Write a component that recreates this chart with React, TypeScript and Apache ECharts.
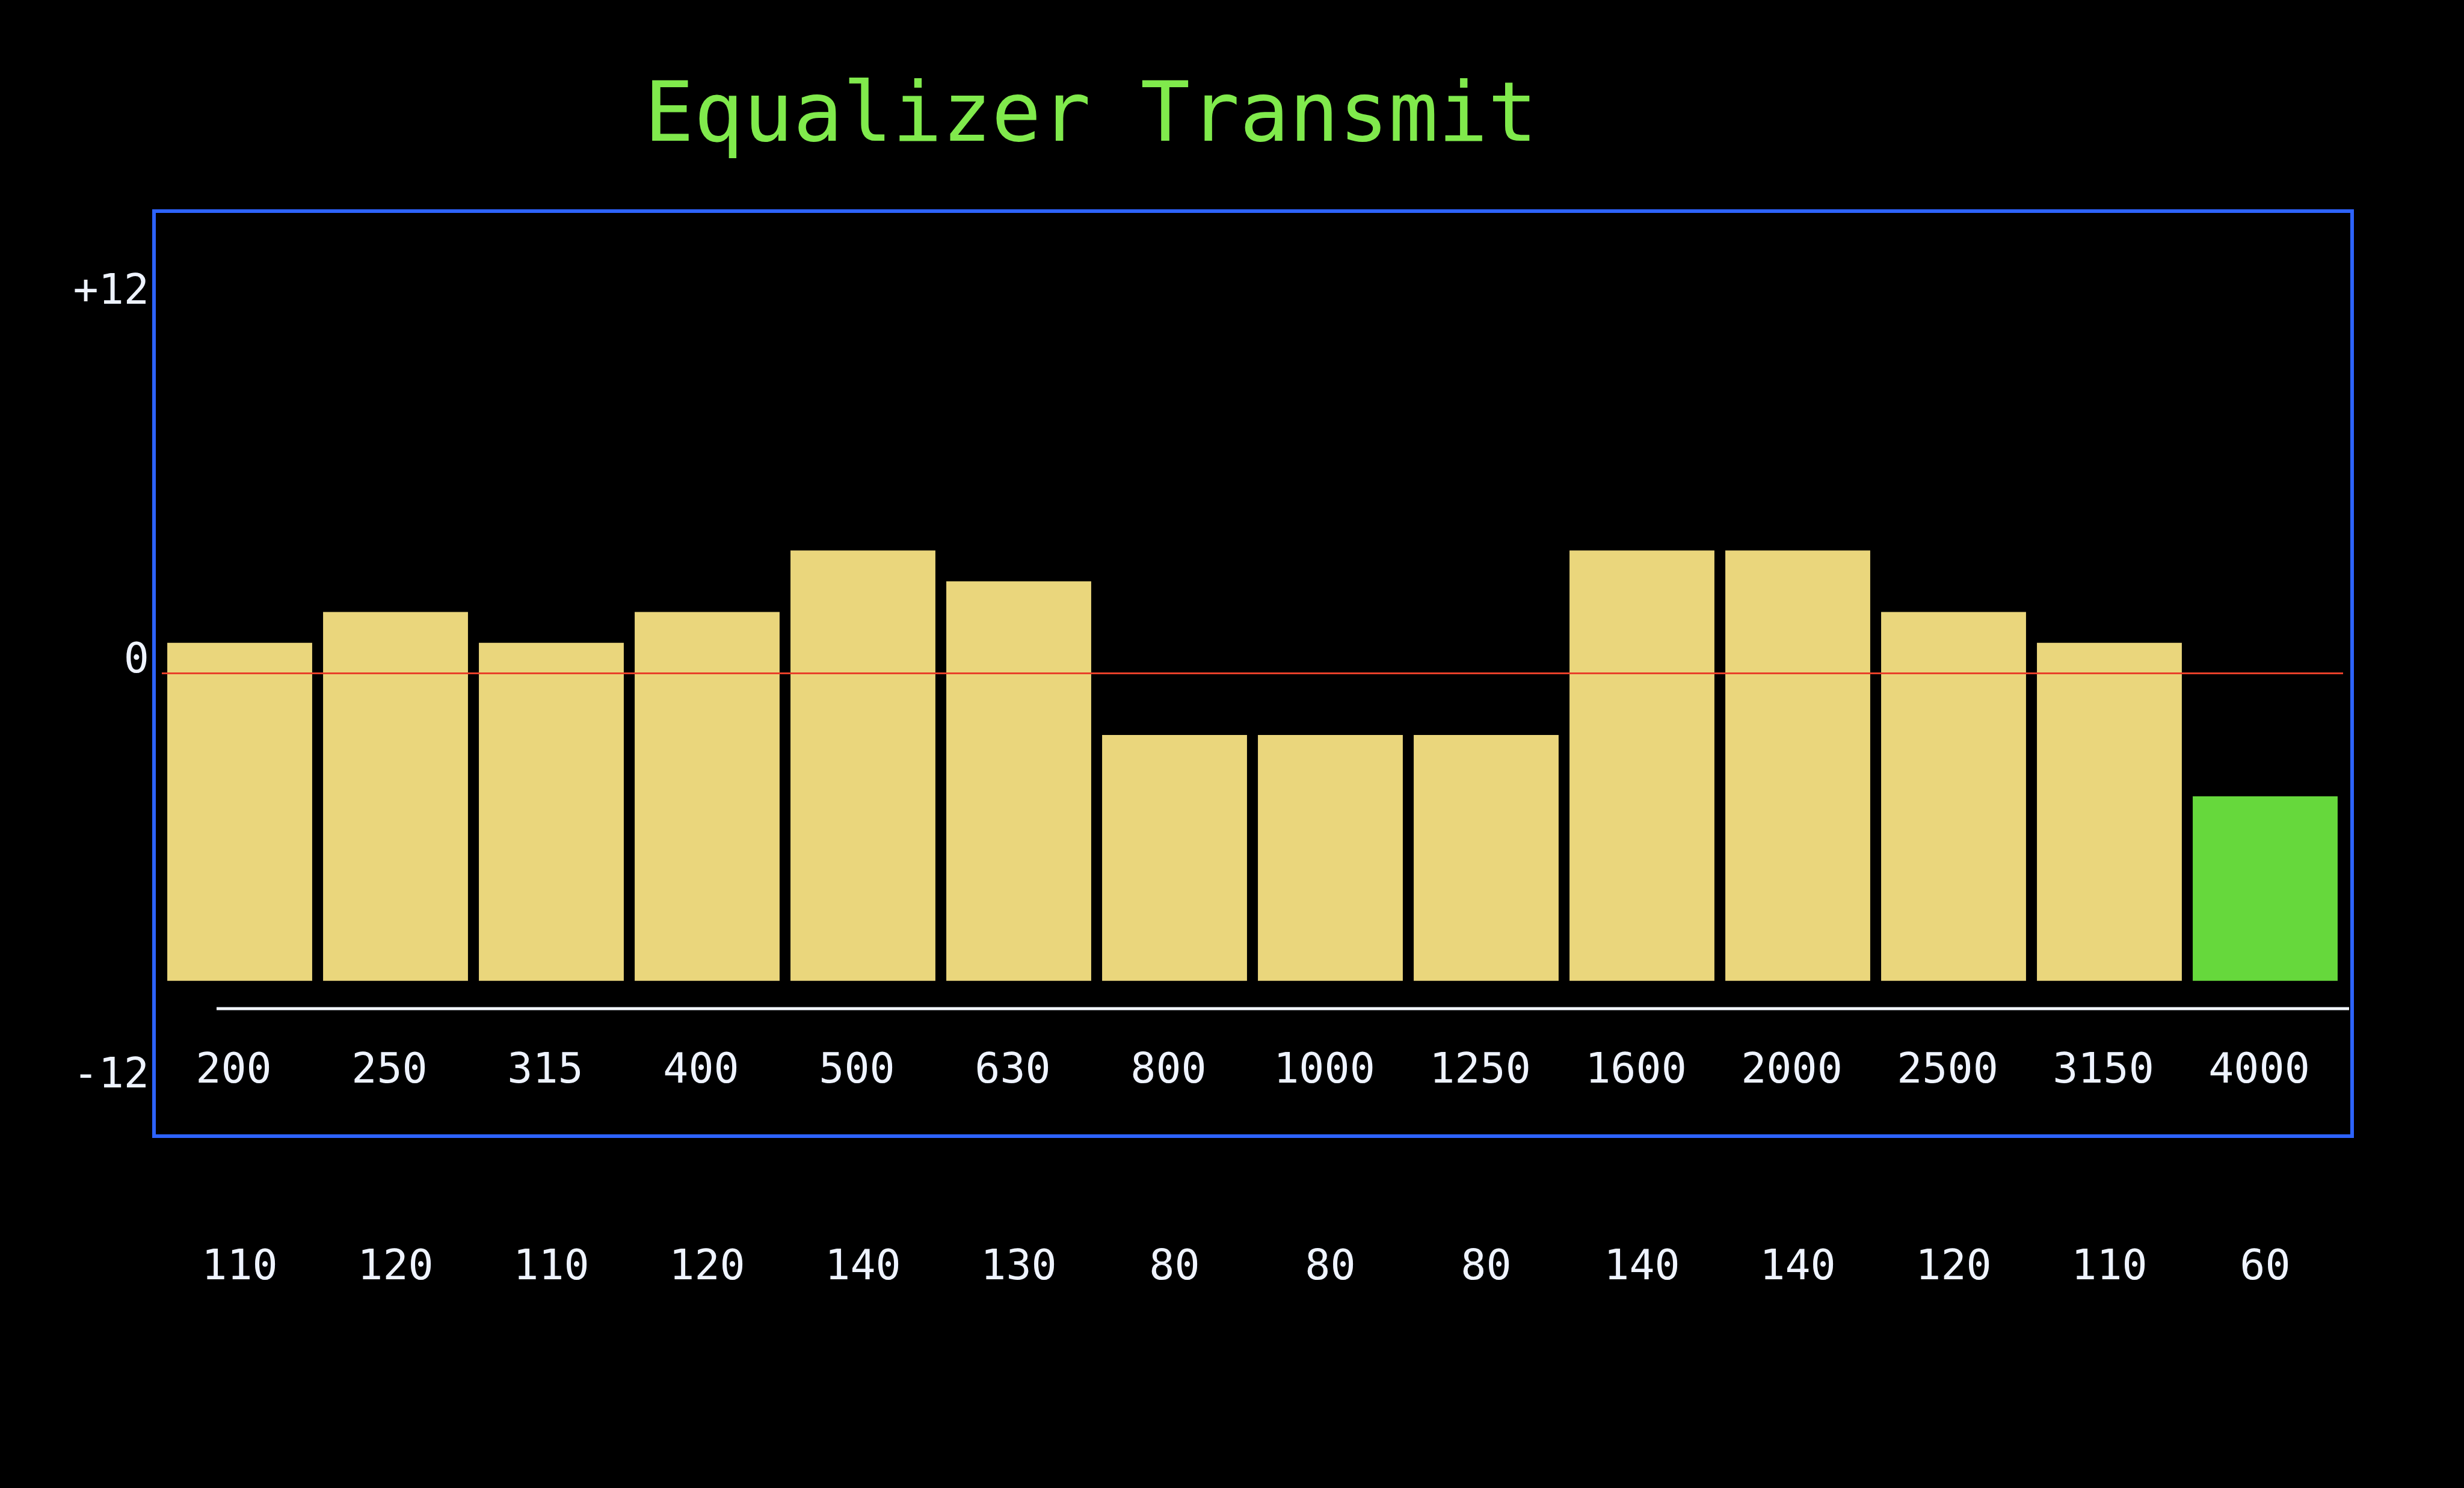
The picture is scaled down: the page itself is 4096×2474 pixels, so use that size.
import React, { useEffect, useRef } from "react";
import * as echarts from "echarts";

const titleText = "Equalizer Transmit";
const frequencies = ["200", "250", "315", "400", "500", "630", "800", "1000", "1250", "1600", "2000", "2500", "3150", "4000"];
const levels = [110, 120, 110, 120, 140, 130, 80, 80, 80, 140, 140, 120, 110, 60];
const dbTickValues = [-12, 0, 12];
const dbTickLabels = ["-12", "0", "+12"];
const referenceLevel = 100;
const selectedBand = "4000";

const FONT = "DejaVu Sans Mono";
const LABEL_COLOR = "#eef3ff";
const YELLOW = "#ead67c";
const GREEN = "#66d83c";

export default function App() {
  const ref = useRef<HTMLDivElement>(null);
  useEffect(() => {
    if (!ref.current) return;
    const chart = echarts.init(ref.current, null, { renderer: "svg" });
    const option = {
      animation: false,
      backgroundColor: "#000000",
      title: {
        text: titleText,
        left: 1071,
        top: 118,
        padding: 0,
        textStyle: { fontFamily: FONT, fontSize: 137, fontWeight: "normal", color: "#80ea4c" },
      },
      grid: { left: 269, right: 201, top: 481, bottom: 690, containLabel: false },
      xAxis: [
        {
          type: "category",
          data: frequencies,
          position: "bottom",
          axisLine: { show: false },
          axisTick: { show: false },
          axisLabel: {
            margin: -8,
            verticalAlign: "middle",
            fontFamily: FONT,
            fontSize: 70,
            color: LABEL_COLOR,
            padding: [0, 20, 0, 0],
          },
        },
        {
          type: "category",
          data: levels.map((v) => String(v)),
          position: "bottom",
          offset: 319,
          axisLine: { show: false },
          axisTick: { show: false },
          axisLabel: {
            margin: 0,
            verticalAlign: "middle",
            fontFamily: FONT,
            fontSize: 70,
            color: LABEL_COLOR,
          },
        },
      ],
      yAxis: [
        {
          type: "value",
          min: -12,
          max: 12,
          interval: 12,
          position: "left",
          axisLine: { show: false },
          axisTick: { show: false },
          splitLine: { show: false },
          axisLabel: {
            margin: 21,
            fontFamily: FONT,
            fontSize: 70,
            color: LABEL_COLOR,
            formatter: (v: number) => {
              const i = dbTickValues.indexOf(v);
              const s = i >= 0 ? dbTickLabels[i] : "";
              return v === 0 ? "{up|" + s + "}" : s;
            },
            rich: {
              up: { fontFamily: FONT, fontSize: 70, color: LABEL_COLOR, padding: [0, 0, 78, 0] },
            },
          },
        },
        {
          type: "value",
          min: -30,
          max: 225,
          show: false,
          splitLine: { show: false },
        },
      ],
      series: [
        {
          type: "bar",
          xAxisIndex: 0,
          yAxisIndex: 1,
          data: levels,
          barCategoryGap: "7%",
          itemStyle: {
            color: (p: any) => (frequencies[p.dataIndex] === selectedBand ? GREEN : YELLOW),
          },
          markLine: {
            silent: true,
            symbol: "none",
            label: { show: false },
            lineStyle: { color: "#e8402a", width: 3, type: "solid" },
            data: [{ yAxis: referenceLevel }],
          },
        },
      ],
      graphic: [
        {
          type: "rect",
          shape: { x: 256, y: 351, width: 3654, height: 1538 },
          style: { fill: "none", stroke: "#2d63ff", lineWidth: 6 },
          silent: true,
        },
        {
          type: "line",
          shape: { x1: 360, y1: 1677, x2: 3905, y2: 1677 },
          style: { stroke: "#f2f6ff", lineWidth: 5 },
          silent: true,
        },
      ],
    };
    chart.setOption(option as any);
    return () => chart.dispose();
  }, []);
  return (
    <div
      ref={ref}
      style={{ position: "fixed", left: 0, top: 0, width: "4096px", height: "2474px", background: "#000" }}
    />
  );
}
